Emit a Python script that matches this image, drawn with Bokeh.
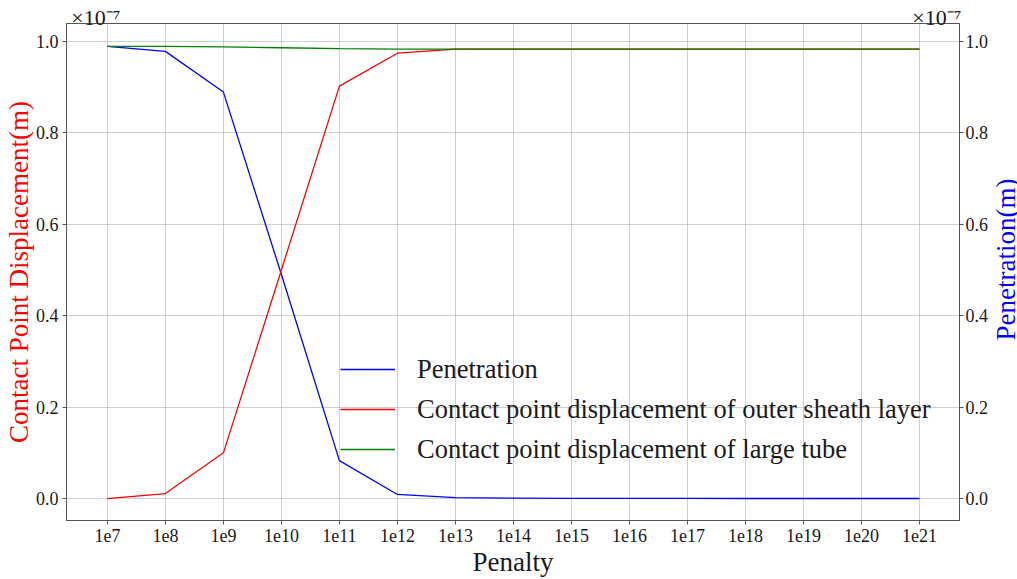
import math
from bokeh.plotting import figure
from bokeh.layouts import row
from bokeh.models import Range1d, LinearAxis, FixedTicker, Legend, LegendItem, Label
from bokeh.embed import file_html
from bokeh.resources import INLINE

# Penalty factors (x axis) and results, displacements in units of 1e-7 m
penalty = ["1e7", "1e8", "1e9", "1e10", "1e11", "1e12", "1e13", "1e14",
           "1e15", "1e16", "1e17", "1e18", "1e19", "1e20", "1e21"]
penetration = [0.989, 0.978, 0.889, 0.49, 0.083, 0.009, 0.002, 0.001,
               0.0005, 0.0003, 0.0002, 0.0001, 0.0001, 0.0001, 0.0001]
sheath_disp = [0.0, 0.011, 0.100, 0.50, 0.902, 0.974, 0.983, 0.983,
               0.983, 0.983, 0.983, 0.983, 0.983, 0.983, 0.983]
tube_disp = [0.989, 0.989, 0.988, 0.986, 0.984, 0.983, 0.983, 0.983,
             0.983, 0.983, 0.983, 0.983, 0.983, 0.983, 0.983]
y_ticks = [0.0, 0.2, 0.4, 0.6, 0.8, 1.0]
scale_text = "\u00d710\u207b\u2077"

xs = list(range(len(penalty)))
FONT = "Liberation Serif"
TXT = "#1a1a1a"

p = figure(width=991, height=579, output_backend="svg", toolbar_location=None,
           x_range=Range1d(-0.705, 14.69), y_range=Range1d(-0.048, 1.039),
           min_border_left=66, min_border_right=30, min_border_top=23, min_border_bottom=56)
p.extra_y_ranges = {"pen": Range1d(-0.048, 1.039)}

p.outline_line_color = "#555555"
p.outline_line_width = 1
p.background_fill_color = "white"
p.border_fill_color = "white"

for g in (p.xgrid, p.ygrid):
    g.grid_line_color = "#b0b0b0"
    g.grid_line_alpha = 0.6
    g.grid_line_width = 1

p.xgrid.ticker = FixedTicker(ticks=xs)
p.xaxis.ticker = FixedTicker(ticks=xs)
p.xaxis.major_label_overrides = {i: s for i, s in enumerate(penalty)}
p.xaxis.axis_label = "Penalty"

tick_text = {t: f"{t:.1f}" for t in y_ticks}
p.yaxis.ticker = FixedTicker(ticks=y_ticks)
p.ygrid.ticker = FixedTicker(ticks=y_ticks)
p.yaxis.major_label_overrides = tick_text
p.yaxis.axis_label = "Contact Point Displacement(m)"

right = LinearAxis(y_range_name="pen", ticker=FixedTicker(ticks=y_ticks))
right.major_label_overrides = tick_text
p.add_layout(right, "right")

for ax in (p.xaxis[0], p.yaxis[0], right):
    ax.major_label_text_font = FONT
    ax.major_label_text_font_size = "18px"
    ax.major_label_text_color = TXT
    ax.axis_label_text_font = FONT
    ax.axis_label_text_font_size = "27px"
    ax.axis_label_text_font_style = "normal"
    ax.axis_label_text_color = TXT
    ax.axis_line_color = "#555555"
    ax.major_tick_line_color = "#555555"
    ax.major_tick_out = 4
    ax.major_tick_in = 0
    ax.minor_tick_line_color = None
    ax.major_label_standoff = 4
p.xaxis.axis_label_standoff = 2
p.yaxis.axis_label_text_color = "red"
p.yaxis.axis_label_standoff = -1
right.major_label_standoff = 2

# scale factor marks above both value axes
top = LinearAxis(ticker=FixedTicker(ticks=[-0.2, 14.3]),
                 major_label_overrides={-0.2: scale_text, 14.3: scale_text})
top.axis_line_color = None
top.major_tick_line_color = None
top.major_tick_out = 0
top.minor_tick_line_color = None
top.major_label_standoff = -6
top.major_label_text_font = FONT
top.major_label_text_font_size = "22px"
top.major_label_text_color = TXT
p.add_layout(top, "above")

r_pen = p.line(xs, penetration, y_range_name="pen", line_color="blue", line_width=1.3)
r_sheath = p.line(xs, sheath_disp, line_color="red", line_width=1.3)
r_tube = p.line(xs, tube_disp, line_color="green", line_width=1.3)

legend = Legend(items=[
    LegendItem(label="Penetration", renderers=[r_pen]),
    LegendItem(label="Contact point displacement of outer sheath layer", renderers=[r_sheath]),
    LegendItem(label="Contact point displacement of large tube", renderers=[r_tube]),
], location=(274, 51))
legend.label_text_font = FONT
legend.label_text_font_size = "26.5px"
legend.label_text_color = TXT
legend.glyph_width = 55
legend.glyph_height = 40
legend.label_height = 40
legend.spacing = 0
legend.padding = 0
legend.margin = 0
legend.label_standoff = 22
legend.border_line_alpha = 0
legend.background_fill_alpha = 0
p.add_layout(legend, "center")

# narrow strip carrying the right-hand axis title, reading bottom to top
side = figure(width=26, height=579, output_backend="svg", toolbar_location=None,
              x_range=Range1d(0, 26), y_range=Range1d(0, 579),
              min_border=0, min_border_left=0, min_border_right=0,
              min_border_top=0, min_border_bottom=0)
side.axis.visible = False
side.grid.visible = False
side.outline_line_color = None
side.background_fill_color = "white"
side.border_fill_color = "white"
side.add_layout(Label(x=14, y=304, text="Penetration(m)", angle=math.pi / 2,
                      text_align="center", text_baseline="middle", text_font=FONT,
                      text_font_size="27px", text_color="blue"))

layout = row(p, side, spacing=0)
open("out.html", "w").write(file_html(layout, INLINE))
